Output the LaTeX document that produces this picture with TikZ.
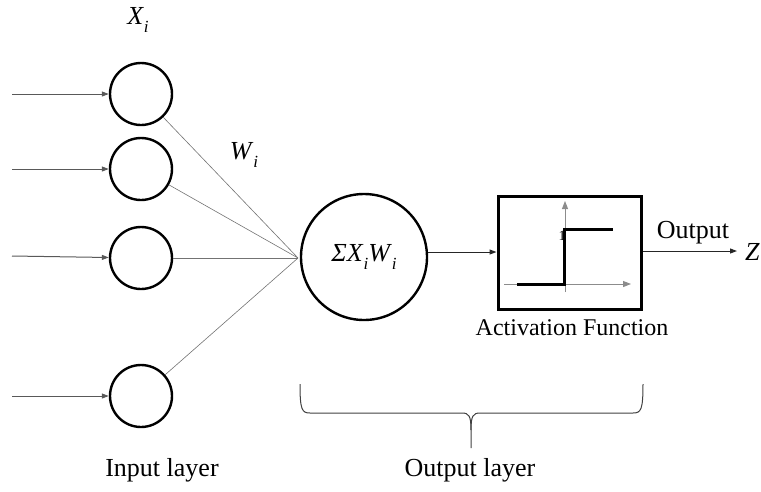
\documentclass[tikz,border=0pt]{standalone}
\usepackage{fontspec}
\setmainfont{Liberation Serif}
\usetikzlibrary{arrows.meta}
\newcommand{\vsub}[2]{\textit{#1}\raisebox{-0.28em}{\fontsize{17}{17}\selectfont\textit{#2}}}
\begin{document}
\begin{tikzpicture}[x=1pt,y=-1pt,
  every node/.style={font=\fontsize{26}{30}\selectfont},
  neuron/.style={circle,draw=black,line width=2.4pt,minimum size=62pt,inner sep=0pt},
  inarrow/.style={draw=black!65,line width=1pt,-{Triangle[length=7pt,width=5pt]}},
  weight/.style={draw=black!55,line width=0.6pt},
  flow/.style={draw=black!85,line width=1pt,-{Triangle[length=7pt,width=5pt]}},
  axis/.style={draw=black!45,line width=1pt,-{Triangle[length=8pt,width=6pt]}}]
\useasboundingbox (0,0) rectangle (761,491);

% input neurons
\node[neuron] (in1) at (141,94) {};
\node[neuron] (in2) at (141,169) {};
\node[neuron] (in3) at (141,258) {};
\node[neuron] (in4) at (141,396) {};

% free ends of the incoming signals
\coordinate (s1) at (12,94);
\coordinate (s2) at (12,169);
\coordinate (s3) at (12,256);
\coordinate (s4) at (12,396);
\foreach \i in {1,2,3,4} \draw[inarrow] (s\i) -- (in\i);

% summing neuron and the point where the weights meet
\node[neuron,minimum size=126pt] (sum) at (364,257) {\textit{Σ}\vsub{X}{i}\vsub{W}{i}};
\coordinate (meet) at (298,258);
\foreach \i in {1,2,3,4} \draw[weight] (in\i) -- (meet);

\node (xi) at (138,20) {\vsub{X}{i}};
\node (wi) at (244,155) {\vsub{W}{i}};

% activation function box with its step curve
\node[draw=black,line width=3pt,minimum width=143pt,minimum height=113pt,inner sep=0pt] (act) at (569.5,252.5) {};
\coordinate (ax0) at (504,284);
\coordinate (ax1) at (631,284);
\coordinate (ay0) at (565,292);
\coordinate (ay1) at (565,201);
\draw[axis] (ax0) -- (ax1);
\draw[axis] (ay0) -- (ay1);
\node[font=\fontsize{14}{14}\selectfont,inner sep=0pt] (one) at (562,236) {1};
\draw[line width=3pt,line join=miter] (517,284) -- (564,284) -- (564,229) -- (613,229);
\node[font=\fontsize{24}{28}\selectfont] (actlabel) at (572,328) {Activation Function};

\draw[flow] (sum.east |- 0,252) -- (act.west |- 0,252);
\coordinate (zend) at (737,251);
\draw[flow] (act.east |- zend) -- (zend);
\node (outlabel) at (693,233) {Output};
\node[anchor=west,inner sep=0pt] (z) at (745,252) {\textit{Z}};

% grouping brace under the output layer
\draw[black!75,line width=1pt] (300,384) .. controls (300,410) and (302,413) .. (310,413)
  -- (462,413) .. controls (469,413) and (471,416) .. (471,430) -- (471,448);
\draw[black!75,line width=1pt] (643,384) .. controls (643,410) and (641,413) .. (633,413)
  -- (480,413) .. controls (473,413) and (471,416) .. (471,430);

\node (inlayer) at (162,470) {Input layer};
\node (outlayer) at (470,470) {Output layer};
\end{tikzpicture}
\end{document}
